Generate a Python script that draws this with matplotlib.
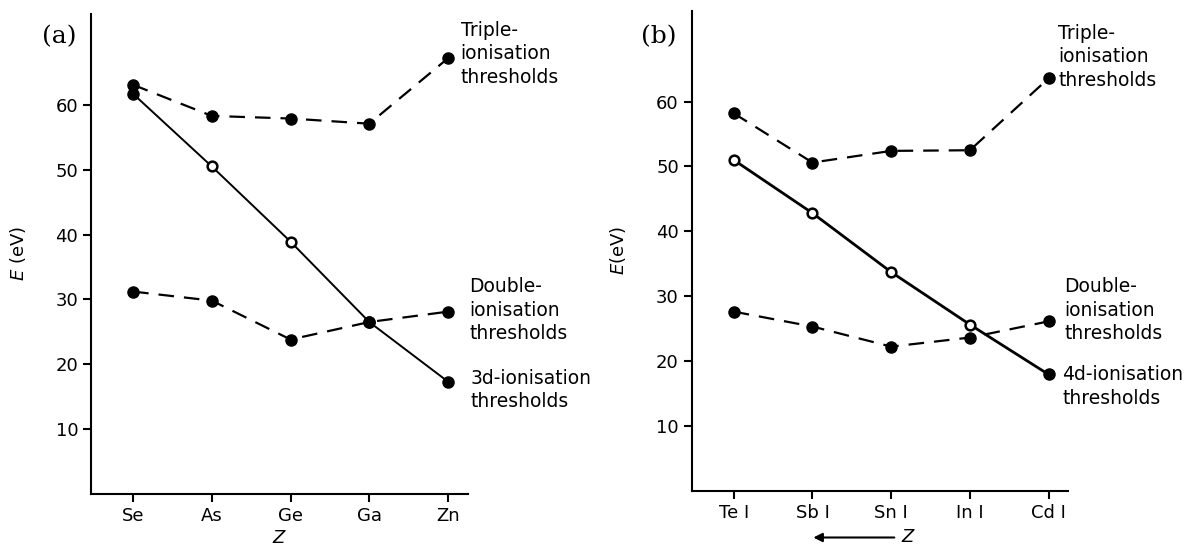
#!/usr/bin/env python3
import matplotlib
matplotlib.use('Agg')
import matplotlib.pyplot as plt
import numpy as np


# panel (a)
elements_a = ['Se', 'As', 'Ge', 'Ga', 'Zn']
triple_a = [63.1, 58.3, 57.9, 57.1, 67.2]
double_a = [31.2, 29.8, 23.8, 26.5, 28.1]
inner_a = [61.7, 50.5, 38.9, 26.5, 17.3]
inner_a_filled = [True, False, False, True, True]

# panel (b)
elements_b = ['Te I', 'Sb I', 'Sn I', 'In I', 'Cd I']
triple_b = [58.2, 50.6, 52.4, 52.5, 63.6]
double_b = [27.6, 25.3, 22.2, 23.6, 26.1]
inner_b = [51.0, 42.8, 33.7, 25.6, 17.9]
inner_b_filled = [False, False, False, False, True]

yticks = [10, 20, 30, 40, 50, 60]

plt.rcParams['font.family'] = 'DejaVu Sans'
plt.rcParams['font.size'] = 13

fig = plt.figure(figsize=(11.87, 5.45), dpi=100)
ax_a = fig.add_axes([0.077, 0.094, 0.317, 0.880])
ax_b = fig.add_axes([0.583, 0.100, 0.317, 0.880])


def draw_panel(ax, names, triple, double, inner, filled, solid_lw, labels):
    x = np.arange(len(names))
    dash = dict(color='black', lw=1.6, ls=(0, (7, 4.5)), zorder=2)
    ax.plot(x, triple, **dash)
    ax.plot(x, double, **dash)
    ax.plot(x, inner, color='black', lw=solid_lw, zorder=2)
    ax.plot(x, triple, 'o', color='black', ms=8, zorder=3)
    ax.plot(x, double, 'o', color='black', ms=8, zorder=3)
    filled = np.array(filled)
    inner = np.array(inner)
    ax.plot(x[filled], inner[filled], 'o', color='black', ms=8, zorder=4)
    ax.plot(x[~filled], inner[~filled], 'o', mfc='white', mec='black',
            mew=1.8, ms=7, zorder=4)

    ax.set_xlim(-0.53, 4.25)
    ax.set_ylim(0, 74)
    ax.set_xticks(x)
    ax.set_xticklabels(names)
    ax.set_yticks(yticks)
    for side in ('top', 'right'):
        ax.spines[side].set_visible(False)
    for side in ('left', 'bottom'):
        ax.spines[side].set_linewidth(1.5)
    ax.tick_params(direction='out', length=6, width=1.5, labelsize=13)

    for xt, yt, txt in labels:
        ax.text(xt, yt, txt, ha='left', va='top', fontsize=13.5,
                linespacing=1.3, clip_on=False)


draw_panel(ax_a, elements_a, triple_a, double_a, inner_a, inner_a_filled, 1.4,
           [(4.16, 73.0, 'Triple-\nionisation\nthresholds'),
            (4.27, 33.4, 'Double-\nionisation\nthresholds'),
            (4.29, 19.3, '3d-ionisation\nthresholds')])
draw_panel(ax_b, elements_b, triple_b, double_b, inner_b, inner_b_filled, 2.0,
           [(4.12, 72.0, 'Triple-\nionisation\nthresholds'),
            (4.20, 32.9, 'Double-\nionisation\nthresholds'),
            (4.17, 19.3, '4d-ionisation\nthresholds')])

ax_a.set_ylabel('$E$ (eV)', fontsize=13, labelpad=20)
ax_b.set_ylabel('$E$(eV)', fontsize=13, labelpad=20)
ax_a.set_xlabel('$Z$', fontsize=13)
ax_a.xaxis.set_label_coords(0.5, -0.074)
ax_b.set_xlabel('$Z$', fontsize=13)
ax_b.xaxis.set_label_coords(0.575, -0.078)
ax_b.annotate('', xy=(0.315, -0.098), xytext=(0.545, -0.098),
              xycoords='axes fraction',
              arrowprops=dict(arrowstyle='-|>', color='black', lw=1.5))

fig.text(0.035, 0.92, '(a)', family='DejaVu Serif', fontsize=18)
fig.text(0.54, 0.92, '(b)', family='DejaVu Serif', fontsize=18)

fig.savefig('out.png', dpi=100)
